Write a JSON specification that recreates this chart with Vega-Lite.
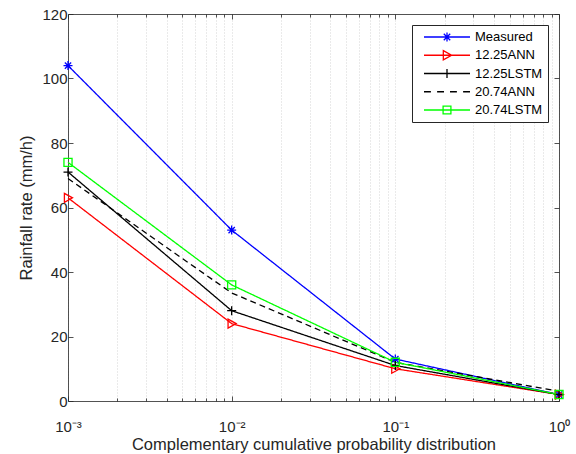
{
  "$schema": "https://vega.github.io/schema/vega-lite/v6.json",
  "width": 491,
  "height": 387,
  "autosize": {"type": "none"},
  "padding": {"left": 68, "top": 14, "right": 17, "bottom": 53},
  "background": "#ffffff",
  "data": {
    "values": [
      {"series": "Measured", "p": 0.001, "r": 104},
      {"series": "Measured", "p": 0.01, "r": 53},
      {"series": "Measured", "p": 0.1, "r": 13},
      {"series": "Measured", "p": 1, "r": 2},
      {"series": "12.25ANN", "p": 0.001, "r": 63},
      {"series": "12.25ANN", "p": 0.01, "r": 24},
      {"series": "12.25ANN", "p": 0.1, "r": 10},
      {"series": "12.25ANN", "p": 1, "r": 2},
      {"series": "12.25LSTM", "p": 0.001, "r": 71},
      {"series": "12.25LSTM", "p": 0.01, "r": 28},
      {"series": "12.25LSTM", "p": 0.1, "r": 11},
      {"series": "12.25LSTM", "p": 1, "r": 2},
      {"series": "20.74ANN", "p": 0.001, "r": 69},
      {"series": "20.74ANN", "p": 0.01, "r": 33.5},
      {"series": "20.74ANN", "p": 0.1, "r": 12},
      {"series": "20.74ANN", "p": 1, "r": 3},
      {"series": "20.74LSTM", "p": 0.001, "r": 74},
      {"series": "20.74LSTM", "p": 0.01, "r": 36},
      {"series": "20.74LSTM", "p": 0.1, "r": 12},
      {"series": "20.74LSTM", "p": 1, "r": 2}
    ]
  },
  "resolve": {
    "axis": {"x": "independent", "y": "independent"},
    "scale": {"color": "independent", "shape": "independent", "strokeDash": "independent"}
  },
  "layer": [
    {
      "mark": {"type": "line", "strokeWidth": 1.3},
      "encoding": {
        "x": {
          "field": "p", "type": "quantitative",
          "scale": {"type": "log", "domain": [0.001, 1], "nice": false},
          "axis": {
            "title": "Complementary cumulative probability distribution",
            "values": [0.001, 0.002, 0.003, 0.004, 0.005, 0.006, 0.007, 0.008, 0.009, 0.01, 0.02, 0.03, 0.04, 0.05, 0.06, 0.07, 0.08, 0.09, 0.1, 0.2, 0.3, 0.4, 0.5, 0.6, 0.7, 0.8, 0.9, 1],
            "labelExpr": "datum.value == 0.001 ? '10⁻³' : datum.value == 0.01 ? '10⁻²' : datum.value == 0.1 ? '10⁻¹' : datum.value == 1 ? '10⁰' : ''",
            "labelOverlap": false,
            "labelFlush": false,
            "labelBound": false,
            "tickSize": {"condition": {"test": "datum.value == 0.001 || datum.value == 0.01 || datum.value == 0.1 || datum.value == 1", "value": -5}, "value": -3},
            "labelPadding": 23,
            "titlePadding": 0,
            "grid": true,
            "gridDash": [1, 2],
            "gridColor": "#c4c4c4",
            "gridWidth": 0.7
          }
        },
        "y": {
          "field": "r", "type": "quantitative",
          "scale": {"domain": [0, 120], "nice": false},
          "axis": {
            "title": "Rainfall rate (mm/h)",
            "values": [0, 20, 40, 60, 80, 100, 120],
            "tickSize": -5,
            "labelPadding": 6,
            "titlePadding": 7,
            "grid": false
          }
        },
        "color": {
          "field": "series", "type": "nominal",
          "scale": {"domain": ["Measured", "12.25ANN", "12.25LSTM", "20.74ANN", "20.74LSTM"], "range": ["#0000ff", "#ff0000", "#000000", "#000000", "#00ff00"]},
          "legend": null
        },
        "strokeDash": {
          "field": "series", "type": "nominal",
          "scale": {"domain": ["Measured", "12.25ANN", "12.25LSTM", "20.74ANN", "20.74LSTM"], "range": [[1, 0], [1, 0], [1, 0], [6, 4], [1, 0]]},
          "legend": null
        }
      }
    },
    {
      "transform": [{"filter": "datum.series != '20.74ANN'"}],
      "mark": {"type": "point", "filled": false, "strokeWidth": 1.3, "size": 81, "opacity": 1},
      "encoding": {
        "x": {"field": "p", "type": "quantitative", "scale": {"type": "log", "domain": [0.001, 1], "nice": false}, "axis": null},
        "y": {"field": "r", "type": "quantitative", "scale": {"domain": [0, 120], "nice": false}, "axis": null},
        "color": {
          "field": "series", "type": "nominal",
          "scale": {"domain": ["Measured", "12.25ANN", "12.25LSTM", "20.74LSTM"], "range": ["#0000ff", "#ff0000", "#000000", "#00ff00"]},
          "legend": null
        },
        "shape": {
          "field": "series", "type": "nominal",
          "scale": {"domain": ["Measured", "12.25ANN", "12.25LSTM", "20.74LSTM"], "range": ["M-1,0H1M0,-1V1M-0.7,-0.7L0.7,0.7M-0.7,0.7L0.7,-0.7", "M-0.8,-1L1,0L-0.8,1Z", "M-1,0H1M0,-1V1", "M-0.9,-0.9H0.9V0.9H-0.9Z"]},
          "legend": null
        }
      }
    },
    {
      "mark": {"type": "point", "opacity": 0},
      "encoding": {
        "x": {
          "field": "p", "type": "quantitative", "scale": {"type": "log", "domain": [0.001, 1], "nice": false},
          "axis": {
            "orient": "top", "labels": false, "title": null, "grid": false,
            "values": [0.001, 0.002, 0.003, 0.004, 0.005, 0.006, 0.007, 0.008, 0.009, 0.01, 0.02, 0.03, 0.04, 0.05, 0.06, 0.07, 0.08, 0.09, 0.1, 0.2, 0.3, 0.4, 0.5, 0.6, 0.7, 0.8, 0.9, 1],
            "tickSize": {"condition": {"test": "datum.value == 0.001 || datum.value == 0.01 || datum.value == 0.1 || datum.value == 1", "value": -5}, "value": -3}
          }
        },
        "y": {
          "field": "r", "type": "quantitative", "scale": {"domain": [0, 120], "nice": false},
          "axis": {"orient": "right", "labels": false, "title": null, "grid": false, "values": [0, 20, 40, 60, 80, 100, 120], "tickSize": -5}
        }
      }
    },
    {
      "transform": [{"filter": "false"}],
      "mark": {"type": "point", "filled": false, "strokeWidth": 1.3},
      "encoding": {
        "color": {
          "field": "series", "type": "nominal",
          "scale": {"domain": ["Measured", "12.25ANN", "12.25LSTM", "20.74ANN", "20.74LSTM"], "range": ["#0000ff", "#ff0000", "#000000", "#000000", "#00ff00"]},
          "legend": {
            "title": null, "orient": "top-right", "offset": 11, "padding": 5, "symbolOffset": 6,
            "clipHeight": 14, "rowPadding": 4.25, "labelOffset": 4, "symbolSize": 2116,
            "symbolStrokeWidth": 1.3, "symbolOpacity": 1, "labelFont": "Liberation Sans", "labelFontSize": 13,
            "labelColor": "#000000", "strokeColor": "#262626", "fillColor": "#ffffff"
          }
        },
        "shape": {
          "field": "series", "type": "nominal",
          "scale": {"domain": ["Measured", "12.25ANN", "12.25LSTM", "20.74ANN", "20.74LSTM"], "range": [
            "M-1,0H1M0,-0.2V0.2M-0.14,-0.14L0.14,0.14M-0.14,0.14L0.14,-0.14",
            "M-1,0H1M-0.16,-0.2L0.2,0L-0.16,0.2Z",
            "M-1,0H1M0,-0.2V0.2",
            "M-1,0H-0.7M-0.43,0H-0.13M0.13,0H0.43M0.7,0H1",
            "M-1,0H1M-0.17,-0.17H0.17V0.17H-0.17Z"
          ]},
          "legend": {
            "title": null, "orient": "top-right", "offset": 11, "padding": 5, "symbolOffset": 6,
            "clipHeight": 14, "rowPadding": 4.25, "labelOffset": 4, "symbolSize": 2116,
            "symbolStrokeWidth": 1.3, "symbolOpacity": 1, "labelFont": "Liberation Sans", "labelFontSize": 13,
            "labelColor": "#000000", "strokeColor": "#262626", "fillColor": "#ffffff"
          }
        }
      }
    }
  ],
  "config": {
    "view": {"stroke": null},
    "axis": {
      "domainColor": "#262626", "domainWidth": 0.8,
      "tickColor": "#262626", "tickWidth": 0.8,
      "labelColor": "#262626", "titleColor": "#262626",
      "labelFont": "Liberation Sans", "titleFont": "Liberation Sans",
      "labelFontSize": 15, "titleFontSize": 16.5, "titleFontWeight": "normal"
    }
  }
}
